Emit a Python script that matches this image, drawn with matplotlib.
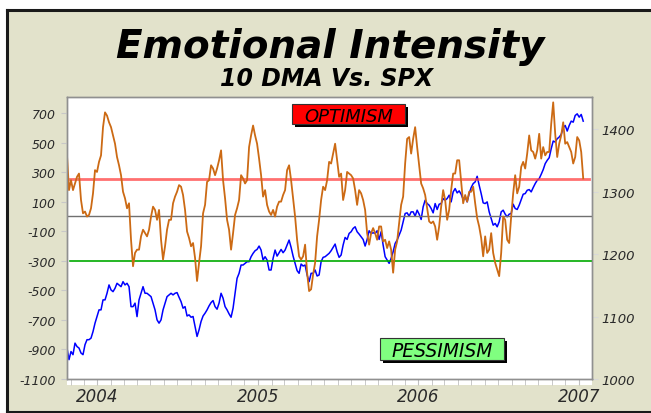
import numpy as np
import pandas as pd
import matplotlib
matplotlib.use('Agg')
import matplotlib.pyplot as plt
import matplotlib.dates as mdates
from matplotlib.patches import Rectangle
from matplotlib.lines import Line2D

# ---------------- data ----------------
START_DATE = '2003-10-24'
END_DATE = '2007-01-11'
X_END = '2007-01-31'

emotion_10dma = [
    413, 178, 245, 178, 223, 268, 290, 111, 21, 33, -1, 10, 55, 156, 313, 301, 369, 413, 604, 704,
    682, 637, 604, 548, 492, 402, 346, 279, 167, 122, 55, 89, -158, -337, -247, -225, -225, -135, -90, -113,
    -135, -90, -1, 66, 44, -23, 44, -158, -292, -202, -90, -23,
    -23, 89, 134, 167, 212, 201, 145, 44, -102, -146, -202, -180, -281, -437, -314, -202, 21, 78, 234, 245,
    346, 324, 279, 324, 380, 447, 245, 122, -23, -90, -225, -113, 10, 55, 111, 279, 257, 223, 245, 469,
    548, 615, 548, 492, 391, 279, 134, 178, 78, 33, 10, 44,
    -1, 66, 100, 100, 145, 178, 313, 346, 245, 122, -1, -158, -270, -292, -270, -191, -381, -505, -493, -393,
    -314, -135, -23, 111, 201, 178, 245, 369, 358, 425, 492, 380, 268, 290, 111, 178, 301, 290, 279, 257,
    178, 78, 178, 156, 111, 44, -113, -191, -113, -79, -113, -158, -68,
    -68, -169, -158, -214, -169, -225, -381, -225, -169, -46, 78, 134, 358, 525, 537, 425, 525, 604, 469, 346,
    223, 190, 145, 55, -34, -46, -34, -68, -158, -68, 66, 178, 111, -23, 44, 178, 290, 290, 380, 380,
    234, 89, 145, 100, 167, 167, 201, 89, -12, -68, -146, -270,
    -135, -247, -225, -113, -247, -314, -359, -404, -247, -1, -23, -158, -180, -1, 156, 279, 156, 201, 335, 369,
    324, 425, 548, 447, 436, 391, 447, 559, 391, 469, 413, 436, 436, 626, 772, 559, 402, 492, 548, 637,
    492, 503, 469, 436, 358, 402, 537, 514, 436, 257,
]

spx_close = [
    1049.6, 1031, 1044, 1039, 1057.5, 1052, 1049.6, 1041.6, 1039, 1055, 1063, 1063, 1065.5, 1076, 1089.5, 1100,
    1110.8, 1110.8, 1126.8, 1126.8, 1137.4, 1150.8, 1142.8, 1140, 1145.4, 1153.4, 1150.8, 1148, 1156, 1150.8,
    1153.4, 1148, 1116, 1116, 1121.6, 1100, 1126.8, 1137.4, 1148, 1137.4, 1137.4, 1134.8, 1132, 1121.6, 1110.8,
    1094.8, 1089.5, 1094.8, 1110.8, 1121.6, 1132, 1134.8,
    1137.4, 1134.8, 1137.4, 1138.5, 1131, 1124, 1113.5, 1116, 1101, 1102.8, 1099, 1100.2, 1084.2, 1068.2, 1078.8,
    1092.2, 1101, 1105.5, 1110.8, 1117.2, 1122.5, 1125.7, 1116, 1111.9, 1121.6, 1137.4, 1129.5, 1116, 1110.8,
    1104.4, 1099, 1113.5, 1137.4, 1161.4, 1169.4, 1182.7, 1182.7, 1185.4, 1188, 1188, 1196, 1201.4, 1205.6,
    1207.7, 1213.1, 1206.7, 1190.7, 1196, 1190.7, 1174.7, 1174.7, 1193.4,
    1206.7, 1197, 1202.4, 1207.7, 1202.4, 1206.7, 1214.7, 1222.7, 1211, 1197, 1185.4, 1173.7, 1169.4, 1184.3,
    1181.1, 1182.7, 1166.7, 1156, 1169.4, 1169.4, 1174.7, 1165.1, 1166.7, 1188, 1195, 1196, 1198.7, 1201.4,
    1205.6, 1211, 1216.3, 1204, 1195, 1198.7, 1214.7, 1226.9, 1223.7, 1233.3, 1236, 1241.3, 1244, 1236, 1232.2,
    1228, 1223.7, 1213.1, 1223.7, 1237.6, 1233.3, 1234.4, 1233.3, 1237.6, 1223.7,
    1236, 1214.7, 1196, 1190.7, 1185.4, 1193.4, 1204, 1217.3, 1222.7, 1230.6, 1238.6, 1252, 1265.3, 1266.3,
    1261, 1267.9, 1267.9, 1261, 1270.6, 1264.2, 1255.7, 1275.9, 1286.6, 1281.2, 1278.6, 1273.3, 1266.3, 1281.2,
    1271.7, 1280.2, 1281.2, 1289.2, 1286.6, 1289.2, 1294.6, 1283.9, 1299.9, 1305.2, 1298.3, 1301.5, 1296.2,
    1287.6, 1291.9, 1283.9, 1297.2, 1306.8, 1313.2, 1315.9, 1324.9, 1310.5, 1297.2, 1282.3,
    1281.2, 1283.9, 1267.9, 1257.3, 1246.6, 1249.3, 1244, 1252, 1267.9, 1270.6, 1264.2, 1260, 1264.2, 1265.3,
    1280.2, 1273.3, 1271.7, 1278.6, 1287.6, 1296.2, 1297.2, 1302.5, 1303.6, 1299.9, 1306.8, 1313.2, 1318.5,
    1321.2, 1328.1, 1335.6, 1345.2, 1350.5, 1354.7, 1369.1, 1381.4, 1379.8, 1385.1, 1387.8, 1392, 1402.7,
    1406.4, 1397.4, 1406.4, 1413.3, 1411.7, 1422.4, 1425, 1419.7, 1424, 1413.3,
]

OPTIMISM_LEVEL = 250
ZERO_LEVEL = 0
PESSIMISM_LEVEL = -300
left_ticks = list(range(-1100, 701, 200))
right_ticks = [1000, 1100, 1200, 1300, 1400]
TITLE = 'Emotional Intensity'
SUBTITLE = '10 DMA Vs. SPX'

# ---------------- figure ----------------
W, H = 651, 414
fig = plt.figure(figsize=(W / 100, H / 100), dpi=100, facecolor='white')


def fx(px):
    return px / W


def fy(py):
    return 1 - py / H


BEIGE = '#E2E2CB'
fig.patches.append(Rectangle((fx(7), 0), 1.0 - fx(7), fy(11), transform=fig.transFigure,
                             fc=BEIGE, ec='none', zorder=-3))
frame_kw = dict(transform=fig.transFigure, color='#1a1a1a', lw=2.2, zorder=-2.5,
                solid_capstyle='projecting')
fig.lines.append(Line2D([fx(7), 1.0], [fy(11), fy(11)], **frame_kw))
fig.lines.append(Line2D([fx(7), fx(7)], [fy(11), fy(413)], **frame_kw))
fig.lines.append(Line2D([fx(7), 1.0], [fy(413), fy(413)], **frame_kw))
# white strip under the plot (tick band)
fig.patches.append(Rectangle((fx(67), fy(386)), fx(592) - fx(67), fy(380) - fy(386),
                             transform=fig.transFigure, fc='white', ec='none', zorder=-2))

ax = fig.add_axes([fx(67), fy(380), fx(592) - fx(67), fy(98) - fy(380)])
ax2 = ax.twinx()

dates = pd.date_range(START_DATE, END_DATE, periods=len(emotion_10dma))

ax.set_facecolor('white')
ax.plot(dates, spx_close, color='#0000FF', lw=1.1, zorder=2)
ax.set_ylim(1001, 1452)
ax.set_xlim(pd.Timestamp(START_DATE), pd.Timestamp(X_END))

ax2.axhline(ZERO_LEVEL, color='#707070', lw=1.0, zorder=1)
ax2.axhline(PESSIMISM_LEVEL, xmin=0.006, xmax=1.0, color='#00AA00', lw=1.2, zorder=1)
ax2.axhline(OPTIMISM_LEVEL, xmin=0.006, xmax=0.994, color='#FF4040', lw=2.0, alpha=0.75, zorder=1)
ax2.plot(dates, emotion_10dma, color='#CC6A14', lw=1.3, zorder=2)
ax2.set_ylim(-1092, 808)

# axis sides (after twinx)
ax.yaxis.tick_right()
ax2.yaxis.tick_left()

for a in (ax, ax2):
    for s in a.spines.values():
        s.set_color('#909090')
        s.set_linewidth(1.0)

label_color = '#2a2a2a'
ax2.set_yticks(left_ticks)
ax2.set_yticklabels([str(v) for v in left_ticks], fontsize=9, fontstyle='italic', color=label_color)
ax2.tick_params(axis='y', length=4, color='#c8c8c8', pad=4)

ax.set_yticks(right_ticks)
ax.set_yticklabels([str(v) for v in right_ticks], fontsize=9.5, fontstyle='italic', color=label_color)
ax.tick_params(axis='y', length=4, color='#d8d8d8', pad=3)

ax.xaxis.set_major_locator(mdates.YearLocator())
ax.xaxis.set_major_formatter(mdates.DateFormatter('%Y'))
ax.xaxis.set_minor_locator(mdates.MonthLocator())
ax.tick_params(axis='x', which='both', length=4.3, color='#c0c0c0', direction='out')
ax.tick_params(axis='x', which='major', pad=1.5, labelsize=12, labelcolor=label_color)
for t in ax.get_xticklabels():
    t.set_fontstyle('italic')
ax2.xaxis.set_visible(False)

# titles
fig.text(fx(330), fy(58), TITLE, ha='center', va='baseline', fontsize=28,
         fontweight='bold', fontstyle='italic', color='black')
fig.text(fx(327), fy(86), SUBTITLE, ha='center', va='baseline', fontsize=17,
         fontweight='bold', fontstyle='italic', color='black')


def label_box(x0, y0, x1, y1, text, fc, size):
    fig.patches.append(Rectangle((fx(x0 + 3), fy(y1 + 3)), fx(x1) - fx(x0), fy(y0) - fy(y1),
                                 transform=fig.transFigure, fc='black', ec='none', zorder=5))
    fig.patches.append(Rectangle((fx(x0), fy(y1)), fx(x1) - fx(x0), fy(y0) - fy(y1),
                                 transform=fig.transFigure, fc=fc, ec='#333333', lw=0.8, zorder=6))
    fig.text(fx((x0 + x1) / 2), fy((y0 + y1) / 2), text, ha='center', va='center_baseline',
             fontsize=size, fontstyle='italic', color='black', zorder=7)


label_box(292, 105, 405, 125, 'OPTIMISM', '#FF0000', 13)
label_box(380, 339, 504, 361, 'PESSIMISM', '#80FF80', 13.5)

fig.savefig('out.png', dpi=100, facecolor=fig.get_facecolor())
